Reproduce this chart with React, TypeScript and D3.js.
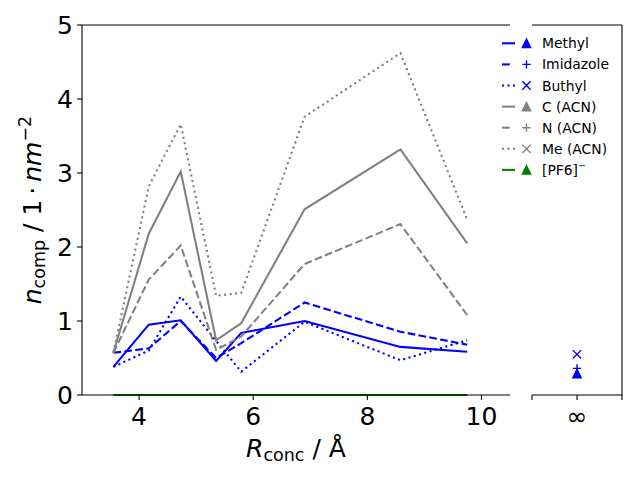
import React from 'react';
import * as d3 from 'd3';

const W = 640;
const H = 480;
const MAIN = { left: 82, right: 510, top: 25, bottom: 395 };
const SIDE = { left: 532, right: 622 };

const rConc = [3.55, 4.17, 4.73, 5.35, 5.79, 6.9, 8.58, 9.75];
const methyl = [0.38, 0.95, 1.01, 0.46, 0.84, 1.0, 0.65, 0.585];
const imidazole = [0.57, 0.63, 1.0, 0.5, 0.7, 1.25, 0.855, 0.68];
const buthyl = [0.38, 0.6, 1.33, 0.73, 0.315, 0.99, 0.47, 0.74];
const cAcn = [0.57, 2.18, 3.02, 0.74, 0.97, 2.51, 3.32, 2.05];
const nAcn = [0.57, 1.56, 2.02, 0.61, 0.79, 1.77, 2.31, 1.08];
const meAcn = [0.57, 2.82, 3.66, 1.34, 1.38, 3.76, 4.62, 2.37];
const pf6 = [0, 0, 0, 0, 0, 0, 0, 0];

// values at infinite distance
const infMethyl = 0.29;
const infImidazole = 0.36;
const infButhyl = 0.55;

const xTicks = [4, 6, 8, 10];
const yTicks = [0, 1, 2, 3, 4, 5];

const BLUE = '#0000ff';
const GRAY = '#808080';
const GREEN = '#008000';
const LW = 2.08;
const DASH = '7.7,3.3';
const DOT = '2.1,3.4';

type Series = { name: string; values: number[]; color: string; dash?: string; marker: string };

const series: Series[] = [
  { name: 'Methyl', values: methyl, color: BLUE, marker: 'tri' },
  { name: 'Imidazole', values: imidazole, color: BLUE, dash: DASH, marker: 'plus' },
  { name: 'Buthyl', values: buthyl, color: BLUE, dash: DOT, marker: 'x' },
  { name: 'C (ACN)', values: cAcn, color: GRAY, marker: 'tri' },
  { name: 'N (ACN)', values: nAcn, color: GRAY, dash: DASH, marker: 'plus' },
  { name: 'Me (ACN)', values: meAcn, color: GRAY, dash: DOT, marker: 'x' },
  { name: '[PF6]', values: pf6, color: GREEN, marker: 'tri' },
];

const FONT = 'DejaVu Sans';

const Marker = ({ kind, cx, cy, color }: { kind: string; cx: number; cy: number; color: string }) => {
  const r = 4.17;
  if (kind === 'tri') {
    return <path d={`M${cx},${cy - r}L${cx - r},${cy + r}L${cx + r},${cy + r}Z`} fill={color} stroke={color} strokeWidth={1.39} />;
  }
  if (kind === 'plus') {
    return <path d={`M${cx - r},${cy}H${cx + r}M${cx},${cy - r}V${cy + r}`} stroke={color} strokeWidth={1.39} fill="none" />;
  }
  return <path d={`M${cx - r},${cy - r}L${cx + r},${cy + r}M${cx - r},${cy + r}L${cx + r},${cy - r}`} stroke={color} strokeWidth={1.39} fill="none" />;
};

const App = () => {
  const x = d3.scaleLinear().domain([3.0, 10.5]).range([MAIN.left, MAIN.right]);
  const y = d3.scaleLinear().domain([0, 5]).range([MAIN.bottom, MAIN.top]);
  const x2 = d3.scaleLinear().domain([-1, 1]).range([SIDE.left, SIDE.right]);

  const line = d3
    .line<number>()
    .x((_, i) => x(rConc[i]))
    .y((d) => y(d));

  return (
    <svg width={W} height={H} style={{ position: 'absolute', left: 0, top: 0, background: '#fff' }}>
      {/* data lines */}
      {series.map((s) => (
        <path key={s.name} d={line(s.values) || ''} fill="none" stroke={s.color} strokeWidth={LW} strokeDasharray={s.dash} />
      ))}

      {/* points at infinity */}
      <Marker kind="tri" cx={x2(0)} cy={y(infMethyl)} color={BLUE} />
      <Marker kind="plus" cx={x2(0)} cy={y(infImidazole)} color={BLUE} />
      <Marker kind="x" cx={x2(0)} cy={y(infButhyl)} color={BLUE} />

      {/* main axes spines: left, top, bottom */}
      <g stroke="#000" strokeWidth={1.1} fill="none">
        <line x1={MAIN.left} x2={MAIN.left} y1={MAIN.top} y2={MAIN.bottom} />
        <line x1={MAIN.left} x2={MAIN.right} y1={MAIN.top} y2={MAIN.top} />
        <line x1={MAIN.left} x2={MAIN.right} y1={MAIN.bottom} y2={MAIN.bottom} />
        {/* side axes spines: top, right, bottom */}
        <line x1={SIDE.left} x2={SIDE.right} y1={MAIN.top} y2={MAIN.top} />
        <line x1={SIDE.right} x2={SIDE.right} y1={MAIN.top} y2={MAIN.bottom} />
        <line x1={SIDE.left} x2={SIDE.right} y1={MAIN.bottom} y2={MAIN.bottom} />
      </g>

      {/* x ticks */}
      {xTicks.map((t) => (
        <g key={t} transform={`translate(${x(t)},${MAIN.bottom})`}>
          <line y2={4.9} stroke="#000" strokeWidth={1.1} />
          <text y={30} textAnchor="middle" fontFamily={FONT} fontSize={25}>{t}</text>
        </g>
      ))}
      {[-1, 0, 1].map((t) => (
        <g key={t} transform={`translate(${x2(t)},${MAIN.bottom})`}>
          <line y2={4.9} stroke="#000" strokeWidth={1.1} />
          {t === 0 && <text y={30} textAnchor="middle" fontFamily={FONT} fontSize={25}>∞</text>}
        </g>
      ))}

      {/* y ticks */}
      {yTicks.map((t) => (
        <g key={t} transform={`translate(${MAIN.left},${y(t)})`}>
          <line x2={-4.9} stroke="#000" strokeWidth={1.1} />
          <text x={-9} dy="0.36em" textAnchor="end" fontFamily={FONT} fontSize={25}>{t}</text>
        </g>
      ))}

      {/* axis labels */}
      <text x={(MAIN.left + MAIN.right) / 2} y={457} textAnchor="middle" fontFamily={FONT} fontSize={25}>
        <tspan fontStyle="italic">R</tspan>
        <tspan fontSize={17.5} dy={4}>conc</tspan>
        <tspan dy={-4}> / Å</tspan>
      </text>
      <text
        transform={`translate(41,${(MAIN.top + MAIN.bottom) / 2}) rotate(-90)`}
        textAnchor="middle"
        fontFamily={FONT}
        fontSize={25}
      >
        <tspan fontStyle="italic">n</tspan>
        <tspan fontSize={17.5} dy={4}>comp</tspan>
        <tspan dy={-4}> / 1{'\u2009'}·{'\u2009'}</tspan>
        <tspan fontStyle="italic">nm</tspan>
        <tspan fontSize={17.5} dy={-10}>−2</tspan>
      </text>

      {/* legend */}
      {series.map((s, i) => {
        const ly = 43.3 + i * 21.1;
        const legendDash = s.dash === DASH ? '7.7,20' : s.dash;
        return (
          <g key={s.name}>
            <line x1={502} x2={515} y1={ly} y2={ly} stroke={s.color} strokeWidth={LW} strokeDasharray={legendDash} />
            <Marker kind={s.marker} cx={526.5} cy={ly} color={s.color} />
            <text x={542} y={ly} dy="0.36em" fontFamily={FONT} fontSize={13.9}>
              {s.name}
              {s.name === '[PF6]' && <tspan fontSize={9.7} dy={-6}>−</tspan>}
            </text>
          </g>
        );
      })}
    </svg>
  );
};

export default App;
